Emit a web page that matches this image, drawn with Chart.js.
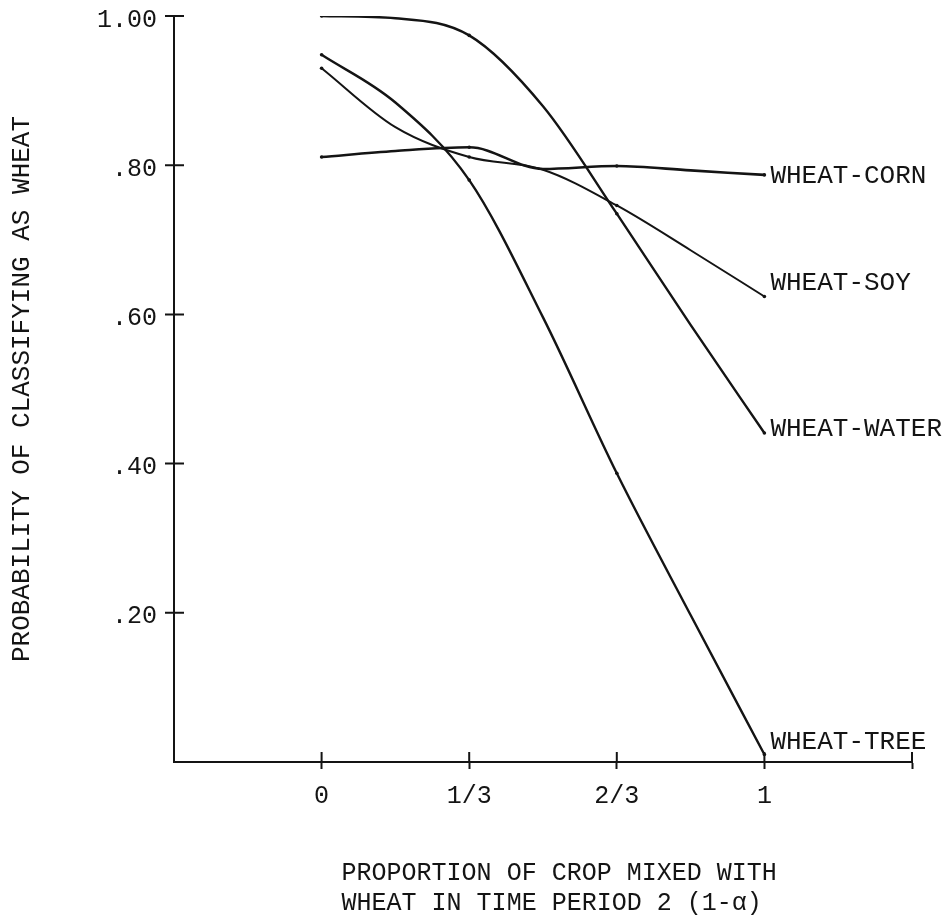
<!DOCTYPE html>
<html>
<head>
<meta charset="utf-8">
<title>Probability of classifying as wheat</title>
<script src="https://cdn.jsdelivr.net/npm/chart.js@4.4.1/dist/chart.umd.min.js"></script>
<style>
  html, body { margin: 0; padding: 0; background: #ffffff; }
  #wrap { width: 946px; height: 921px; }
</style>
</head>
<body>
<div id="wrap"><canvas id="chart" width="946" height="921"></canvas></div>
<script>
// Proportion of crop mixed with wheat in time period 2 (1 - alpha)
const proportion = [0, 1/6, 1/3, 1/2, 2/3, 5/6, 1];

// Probability of classifying the mixed pixel as wheat
const wheatCorn  = [0.811, 0.819, 0.824, 0.795, 0.799, 0.793, 0.787];
const wheatSoy   = [0.930, 0.851, 0.811, 0.794, 0.746, 0.686, 0.624];
const wheatWater = [1.000, 0.997, 0.974, 0.879, 0.735, 0.586, 0.441];
const wheatTree  = [0.948, 0.884, 0.780, 0.596, 0.387, 0.197, 0.010];

const seriesNames = ['WHEAT-CORN', 'WHEAT-SOY', 'WHEAT-WATER', 'WHEAT-TREE'];
const seriesValues = [wheatCorn, wheatSoy, wheatWater, wheatTree];

const xTickValues = [-1/3, 0, 1/3, 2/3, 1, 4/3];
const xTickLabels = ['', '0', '1/3', '2/3', '1', ''];
const yTickValues = [0, 0.2, 0.4, 0.6, 0.8, 1.0];
const yTickLabels = ['', '.20', '.40', '.60', '.80', '1.00'];

const yTitle = 'PROBABILITY OF CLASSIFYING AS WHEAT';
const xTitleLines = ['PROPORTION OF CROP MIXED WITH', 'WHEAT IN TIME PERIOD 2 (1-\u03B1)'];

// drawing styles
const FONT = "'Liberation Mono', 'Courier New', monospace";
const INK = '#141414';
const lineWidths = [2.6, 2.0, 2.4, 2.4];
const endLabelShift = [1, -13, -4, -12];

const datasets = seriesValues.map((vals, i) => ({
  label: seriesNames[i],
  data: proportion.map((x, j) => ({ x: x, y: vals[j] })),
  borderColor: INK,
  backgroundColor: INK,
  borderWidth: lineWidths[i],
  cubicInterpolationMode: 'monotone',
  fill: false,
  pointRadius: ctx => (ctx.dataIndex % 2 === 0 ? 1.8 : 0),
  pointBorderWidth: 0,
  pointHoverRadius: 0
}));

// tick marks crossing the axes, the series names at the line ends and the x-axis title
const annotate = {
  id: 'annotate',
  afterDraw(chart) {
    const ctx = chart.ctx;
    const xs = chart.scales.x, ys = chart.scales.y;
    const area = chart.chartArea;
    ctx.save();
    ctx.strokeStyle = INK;
    ctx.lineWidth = 2;
    ctx.beginPath();
    xTickValues.forEach((v, i) => {
      if (i === 0) return;
      const px = xs.getPixelForValue(v);
      ctx.moveTo(px, area.bottom);
      ctx.lineTo(px, area.bottom - 10);
    });
    yTickValues.forEach((v, i) => {
      if (i === 0) return;
      const py = ys.getPixelForValue(v);
      ctx.moveTo(area.left - 9, py);
      ctx.lineTo(area.left + 10, py);
    });
    ctx.stroke();

    ctx.fillStyle = INK;
    ctx.font = '26px ' + FONT;
    ctx.textAlign = 'left';
    ctx.textBaseline = 'middle';
    chart.data.datasets.forEach((ds, i) => {
      const meta = chart.getDatasetMeta(i);
      const last = meta.data[meta.data.length - 1];
      ctx.fillText(ds.label, last.x + 6, last.y + endLabelShift[i]);
    });

    ctx.font = '25px ' + FONT;
    const tx = xs.getPixelForValue(0) + 20;
    ctx.fillText(xTitleLines[0], tx, area.bottom + 111);
    ctx.fillText(xTitleLines[1], tx, area.bottom + 141);
    ctx.restore();
  }
};

new Chart(document.getElementById('chart'), {
  type: 'line',
  data: { datasets: datasets },
  plugins: [annotate],
  options: {
    responsive: false,
    devicePixelRatio: 1,
    animation: false,
    events: [],
    layout: { padding: { top: 16, right: 34, bottom: 0, left: 0 } },
    plugins: { legend: { display: false }, tooltip: { enabled: false }, title: { display: false } },
    scales: {
      x: {
        type: 'linear',
        min: xTickValues[0],
        max: xTickValues[xTickValues.length - 1],
        afterBuildTicks: s => { s.ticks = xTickValues.map(v => ({ value: v })); },
        afterFit: s => { s.height = 159; },
        ticks: {
          autoSkip: false, maxRotation: 0, padding: 12,
          color: INK, font: { family: FONT, size: 25 },
          callback: (v, i) => xTickLabels[i]
        },
        grid: {
          drawOnChartArea: false, drawTicks: true, tickLength: 7, tickWidth: 2,
          tickColor: c => (c.index === 0 ? 'rgba(0,0,0,0)' : INK)
        },
        border: { display: true, color: INK, width: 2 }
      },
      y: {
        min: 0, max: 1,
        afterBuildTicks: s => { s.ticks = yTickValues.map(v => ({ value: v })); },
        afterFit: s => { s.width = 174; },
        ticks: {
          autoSkip: false, padding: 1, labelOffset: 4,
          color: INK, font: { family: FONT, size: 25 },
          callback: (v, i) => yTickLabels[i]
        },
        grid: {
          drawOnChartArea: false, drawTicks: true, tickLength: 16, tickWidth: 2,
          tickColor: 'rgba(0,0,0,0)'
        },
        border: { display: true, color: INK, width: 2 },
        title: {
          display: true, text: yTitle, color: INK,
          font: { family: FONT, size: 26 },
          padding: { top: 7, bottom: 0 }
        }
      }
    }
  }
});
</script>
</body>
</html>
